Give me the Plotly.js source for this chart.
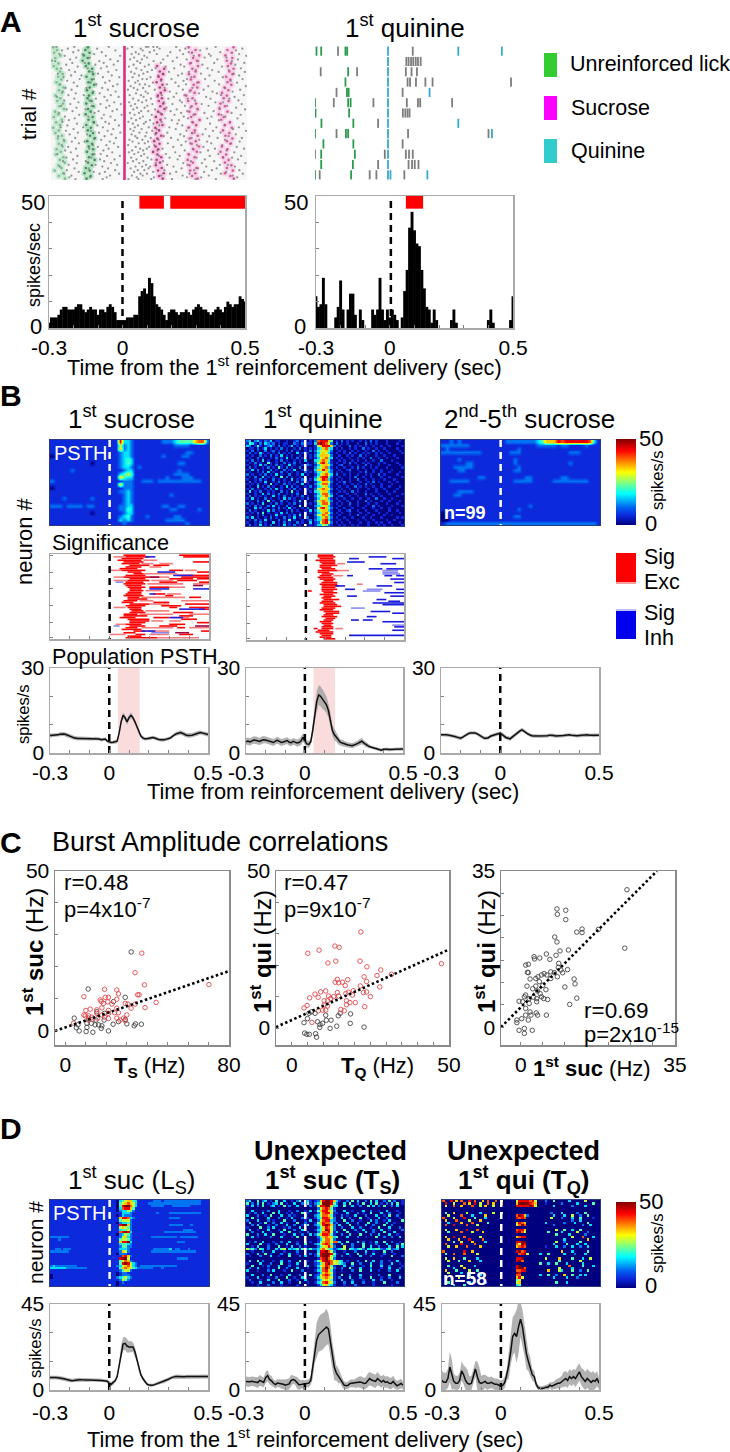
<!DOCTYPE html>
<html><head><meta charset="utf-8">
<script src="https://cdn.plot.ly/plotly-3.0.1.min.js"></script>
<style>html,body{margin:0;padding:0;background:#fff}</style></head>
<body><div id="chart" style="width:730px;height:1452px"></div>
<script>
// ---------- DATA ----------
const timeBins=[-.3,-.29,-.28,-.27,-.26,-.25,-.24,-.23,-.22,-.21,-.2,-.19,-.18,-.17,-.16,-.15,-.14,-.13,-.12,-.11,-.1,-.09,-.08,-.07,-.06,-.05,-.04,-.03,-.02,-.01,0,.01,.02,.03,.04,.05,.06,.07,.08,.09,.1,.11,.12,.13,.14,.15,.16,.17,.18,.19,.2,.21,.22,.23,.24,.25,.26,.27,.28,.29,.3,.31,.32,.33,.34,.35,.36,.37,.38,.39,.4,.41,.42,.43,.44,.45,.46,.47,.48,.49,.5];
const timeTicks=[-.3,-.2,-.1,0,.1,.2,.3,.4,.5];
const timeLabels=['-0.3','','','0','','','','','0.5'];

// A: licks per trial in the first-sucrose raster (seconds)
const lickGreen1=[-.291,-.275,-.287,-.262,-.282,-.296,-.27,-.289,-.276,-.263,-.252,-.271,-.258,-.278,-.266,-.249,-.268,-.255,-.281,-.262,-.274,-.251,-.266,-.247,-.283,-.27,-.288,-.256,-.279,-.263,-.291,-.268,-.282,-.255,-.272,-.246,-.268,-.253,-.277,-.26,-.279,-.249,-.264,-.244,-.27,-.257,-.285,-.25,-.268,-.243];
const lickGreen2=[-.149,-.16,-.143,-.166,-.15,-.171,-.146,-.158,-.132,-.144,-.128,-.155,-.133,-.147,-.124,-.142,-.153,-.13,-.145,-.151,-.135,-.156,-.127,-.149,-.138,-.158,-.13,-.147,-.125,-.156,-.137,-.15,-.128,-.141,-.123,-.152,-.132,-.146,-.128,-.153,-.13,-.145,-.122,-.149,-.133,-.158,-.142,-.163,-.138,-.155];
const lickMag1=[null,null,null,null,null,null,null,.133,.162,.144,.158,.139,.15,.131,.155,.144,.165,.148,.136,.153,.14,.158,.146,.163,.137,.152,.128,.147,.133,.155,.126,.141,.129,.15,.134,.121,.143,.127,.138,.117,.134,.15,.131,.145,.128,.152,.137,.16,.141,.156];
const lickMag2=[.262,.29,.275,.305,.28,.296,.268,.3,.277,.29,.263,.285,.271,.302,.282,.297,.27,.286,.252,.278,.26,.292,.274,.298,.265,.288,.272,.306,.279,.293,.261,.287,.276,.299,.266,.291,.274,.304,.281,.295,.263,.286,.258,.279,.265,.293,.268,.289,.276,.298];
const lickMag3=[.445,.42,.438,.412,.44,.418,.435,.422,.445,.428,.441,.415,.432,.42,.436,.408,.424,.398,.418,.405,.425,.392,.41,.388,.42,.385,.405,.395,.43,.41,.438,.402,.428,.412,.44,.418,.432,.398,.42,.392,.415,.402,.425,.41,.436,.418,.442,.41,.432,.446];
// other spikes, one list per raster line, in milliseconds
const grayMs=[
[-278,-205,-64,31,88,97,211,372,118,133],[-231,-112,12,66,143,248,336,481],[-255,-188,-37,74,121,226,309,455],[-209,-93,46,103,187,262,391],
[-266,-171,-124,29,58,132,239,345,468],[-244,-76,-18,81,176,283,352,497],[-197,-141,39,92,214,327,416],[-222,-58,23,71,158,254,379,463],
[-283,-103,-27,52,119,197,301,438],[-213,-162,-85,64,148,272,366,489],[-238,-119,-44,37,99,229,318,452],[-191,-72,18,83,168,244,398],
[-259,-150,-96,48,127,203,339,475],[-226,-33,69,112,291,358,426],[-202,-131,-66,27,94,181,263,384,491],[-272,-108,41,77,156,235,312,446],
[-218,-176,-52,59,138,219,347,468],[-249,-88,-21,33,106,273,401],[-183,-125,73,91,192,255,329,482],[-234,-61,17,55,149,241,368,433],
[-207,-138,-79,44,116,208,296,459],[-263,-115,-29,62,84,173,251,386],[-193,-47,25,101,221,342,495],[-241,-155,-91,38,76,164,277,411],
[-216,-68,14,53,124,238,323,472],[-252,-128,-36,86,185,266,359,441],[-199,-101,47,95,212,304,377],[-229,-166,-56,21,67,152,245,394,487],
[-276,-82,-24,78,135,201,333,449],[-205,-117,35,108,179,258,351,428],[-246,-143,-71,57,89,226,288,465],[-188,-42,19,72,161,234,371,403],
[-221,-98,-15,43,114,196,315,478],[-258,-134,-62,26,93,247,343,419],[-196,-75,51,82,171,269,388,456],[-236,-159,-31,36,125,213,299,492],
[-212,-106,-49,68,97,188,256,364],[-268,-122,22,59,146,231,326,437],[-185,-84,-12,41,111,204,281,396,474],[-243,-147,-57,75,129,242,355,412],
[-203,-93,28,63,166,259,338,461],[-227,-39,47,104,193,222,307,385],[-254,-127,-78,16,87,151,276,431],[-194,-63,34,79,118,216,349,484],
[-233,-111,-23,55,142,236,292,408],[-261,-169,-88,42,99,183,264,375,467],[-208,-46,24,70,131,209,331,443],[-239,-137,-69,37,113,253,361,496],
[-190,-104,-17,61,90,175,286,392],[-224,-153,-53,29,126,228,319,454],[-271,-81,44,85,160,243,346,425],[-201,-120,-35,52,107,190,274,380,479],
[-248,-95,20,73,139,218,305,410],[-215,-163,-60,33,96,250,337,470],[-186,-43,58,83,177,268,354,435],[-256,-129,-74,15,122,232,295,399],
[-230,-109,-26,46,101,199,322,458],[-198,-144,-65,64,91,155,279,369,488],[-242,-86,31,76,134,246,341,417],[-219,-50,18,56,116,207,310,448],
[-274,-123,-97,40,80,169,261,383],[-192,-71,-19,68,141,225,348,476],[-237,-135,27,94,184,294,402,439],[-210,-100,-41,49,110,217,328,463],
[-251,-158,-83,35,77,157,271,366],[-195,-55,13,60,128,240,316,493],[-228,-118,-30,88,174,257,389,422],[-264,-90,45,72,105,200,334,451],
[-204,-146,-67,25,98,233,300,376],[-235,-38,54,81,163,284,357,469],[-187,-126,-80,39,117,211,325,415],[-247,-102,-22,65,92,186,265,393,483],
[-217,-59,30,74,150,237,344,442],[-225,-140,-73,50,120,255,313,460],[-200,-89,16,57,109,194,290,373]];
const reinforceTime=[0,0];
const reinforceTrials=[.5,50.5];

// A: first-quinine raster, [time, trial]
const qGreenT=[-.294,-.275,-.177,-.17,-.166,-.177,-.171,-.164,-.3,-.166,-.156,-.298,-.162,-.274,-.145,-.3,-.175,-.166,-.266,-.145,-.275,-.139,-.275,-.147,-.3,-.154];
const qGreenTrial=[1,1,1,1,3,4,5,5,6,6,6,7,7,8,8,9,9,9,10,10,11,11,12,12,13,13];
const qCyanT=[-.005,.279,.455,-.005,-.005,-.005,-.005,.163,-.005,-.005,-.005,.279,-.005,.415,-.005,-.005,-.005,-.005,.005,.154];
const qCyanTrial=[1,1,1,2,3,4,5,5,6,7,8,8,9,9,10,11,12,13,13,13];
const qGrayT=[-.207,.095,.069,.078,.088,.097,.107,.116,.127,-.277,-.13,.067,.09,.112,.074,.084,.108,.146,.175,.492,-.213,.054,-.224,-.064,.071,.116,.125,.254,.055,.065,.074,.082,-.045,-.213,.076,.401,.054,-.3,-.018,.067,.08,.095,-.045,.078,.092,.103,.118,-.281,-.079,-.052,.061];
const qGrayTrial=[1,1,2,2,2,2,2,2,2,3,3,3,3,3,4,4,4,4,4,4,5,5,6,6,6,6,6,6,7,7,7,7,8,9,9,9,10,11,11,11,11,11,12,12,12,12,12,13,13,13,13];

// A: PSTHs (spikes/s)
const psthSucrose=[2,4,4,4,5,7,8,8,7,7,7,8,9,9,7,6,7,8,7,7,5,7,7,6,8,9,8,6,3,3,3,3,4,4,4,5,5,12,14,15,13,19,17,12,9,8,7,5,3,6,7,7,6,5,6,6,7,6,5,7,8,9,8,7,7,6,5,6,7,8,7,6,8,10,9,8,9,9,12,11,10];
const psthQuinine=[12,8,9,19,9,0,0,0,4,8,18,7,0,7,13,13,5,0,7,3,0,0,0,7,5,7,19,7,3,7,4,7,5,3,0,4,14,22,38,44,37,32,31,22,15,8,7,2,7,3,0,0,0,0,0,3,7,2,0,0,0,0,0,0,0,0,0,0,0,0,3,7,2,0,0,0,0,0,0,3,12];
const sigStartSucrose=[.069,.195], sigEndSucrose=[.169,.51];
const sigStartQuinine=[.065], sigEndQuinine=[.135];
const sigBase=[45.2,45.2], sigHeight=[4.8,4.8];

// B heatmaps: each digit is a rate step of 50/9 spikes/s, top neuron first
const heatB1=["1111111111111111183321111111222344446772","1111111111111111152321111111111222211111","1111111111111111162321111111111111111111","1111111111111111123321111111111111221111","0111111111111111123321111111211112211111","1111111111111111123431111111111111111111","1111111111011111123431111111111122111111","1111111111111111123321211111111111111111","1111121111111111112331111111111121111111","1111111111111111134541111111111222211111","1111111111111111164331111111121112221111","2111111111111111112221122212222222222211","1111111111111111162221111111111111111111","0111111111111111112221111111111111111111","1111111111111111122321111111111111111111","1111111111111111112321111111112111111111","1112111111211111112321111111111111111111","1111111111111111112321111111111111111111","2221222212211111122331111111221122111111","1111111111111111122431111111112211111211","1111111111011111112331111111111111111111","1111111111111111123421112111111221111111","1111111111111111132321111111122222111111","1111111111111111112111111111111111211111"];
const heatB2=["2302310213011001001201001 027888640 10201010010102010001000010","1431020321201011002102011 038987520 20101000100201010001000100","3201410123102010130101100 015688862 01000201010100100100100001","0110201301010201001020101 013467430 10100101002010010010000100","1020100201201001020100102 024556420 01010010100100201001000010","0201031010102010100301010 013565310 10010201001010010100100001","1010020102010301010010201 024666520 01001010020100010010001000","0100201001020103010201001 013567430 10100100101002001001000100","1020103010010201001010300 034676410 01010010100100100200010000","0102010041010020102010010 025786310 10010201001010001010000100","1001030201020100301001021 013566520 01200100100201001000100010","0201001020104102010020100 024567310 10010010201001010001000001","1030201002010020103001010 036586420 01001200100100100100010000","0100102030100201010100201 024456320 10100100010200100100100010","2010010201030100200103010 013567530 20010100100101002010000100","0102003010100402010010100 024788420 01000102001001000100100001","1001020100201010030102301 035687310 10100100200100100010001000","0201010300102010100201010 013466520 01020100010010201000100100","1010200104010020101003010 024577410 10010010100201000100010000","0100301020100103020100102 013456310 01001002010100100100100010","1020100102030100102010010 025676520 10100100100010010010000100","0301020010100201040100201 034566310 01010020100100010001001000","1001003020102001010200100 013577420 10001001000201001000100001","0201010100301020010102010 024467530 01200100100100100100000100","1030100201001030201001020 013556310 10010010010010020010010000","0100201040100201001030100 025676420 01001000100201000100100010","2010103001020100102010301 014577510 10100200100010010001000100","0102010020301002010040100 023456310 01000100100100201000010001","1003020100102010301001020 015786420 10010010001000100100100000","0201001030201001020100103 024566310 01001200100100010000100100","1010204010010302010010201 013467520 10100100010010001001000010","0100102001030100102030100 025576310 01000100200100100010010000","2030100102010020103010020 013467420 10010010001001000100000101","0102010301002010401001012 023478310 01001000100100100001001000","1001020100301020100201003 012578520 10100100010010010100100010","0201030102001030102010101 013354210 01010010100010001010010001"];
const heatB3=["1121211111111111222222223466687888888731","2222222111111111111111112222212211112111","1211111111111111111211111111111111111111","2222222222111111122211111111111122211111","1111111111111111111111111111111111111111","1111211111111111112111111111111111111111","1111112211111111112111111111111121111111","1112222211111111111211111111111111111111","1111221111111111112211111111111111111111","1111111111111111111111111111111111111111","1111111112211111111112211111112211111111","1122222111111111112222211111222222222111","1111111111111111111111111111111111111111","1111111111111111111111111111111111111111","1111222211111111111111111111111111111111","1112211111111111111111111111111111111111","1111111111111111111111111111111111111111","1111111111111111111111111111111111111111","1111111111111111111111211111111111111111","1111111111111111111211111111111111111111","0111111111111111111111111111111111111111","0111111111111111112211111111111111111111","0011111111111111111111111111111111111111","1222222222222222222222222222222222222221"];
// D heatmaps
const heatD1=["1111111111111111111111111 034566431 11111222122222222222222111","1111111111111111111111111 045676531 11122222222222222222222111","1111111111111111111111111 048997531 11112222211122222221111111","1111111111111111111111111 037886411 11111111111111111111111111","1111111111111111111111111 023354211 11111111111111111111111111","1111111111111111111111111 113332111 11111121111222222222222111","1111111111111111111111111 013222111 11111111111111111111111111","1111111111111111111111111 168873211 11111111111222211111111111","1111111111111111111111111 145552111 11111111111111111111111111","1111111111111111111111111 023342111 11111111111111111111111111","1111111111111111111111111 189962111 11111111111222221112111111","1111111111111111111111111 156542111 11111111111111111111111111","1111111111111111111111111 134452111 11111111111111112222111111","1111111111111111111111111 178983111 11111111122222222222211111","1111111111111111111111111 023542111 11111111111111111111111111","2222222111111111111111111 125632111 11112222222222122222221111","1112111111111111111111111 145542111 11111111111111111111111111","1111111111111111111111111 168893111 11111111111111222111111111","1111111111111111111111111 134432111 11111111111111111111111111","1111111111111111111111111 124422111 11111111111111111111111111","1122122211111111111111111 133321111 11111222222312211121111111","2222222111111111111111111 126521111 11112222222222222222211111","1111111111111111111111111 022211111 11111111111111111111111111","1111111111111111111111111 117862111 11111111111111111111111111","1111111111111111111111111 189951111 11111111111111222211111111","1111111111111111111111111 145762111 11111111111111111111111111","1111111111111111111111111 148985321 11111111111111111111111111","2322222222111111111111111 235675321 22222222222222111111111111","3333332222222211111111111 146765432 22222111211111111111111111","1111111111111111111111111 124552111 11111111111111111111111111","1111111111111111111111111 012211111 11111111111111111111111111","0111111111111111111111111 012221111 11111111111111111111111111","0111111111111111111111111 234532111 11111111111111111111111111","1111111111111111111111111 125421111 11111111111111111111111111","1111111111111111111111111 012111111 11111111111111111111111111","1111111111111111111111111 011111111 11111111111111111111111111"];
const heatD2=["2300402301040030010240031 012689986 31002040300204030020402001","4020304010230401003002041 023599984 20030400204003040102030401","1030204002301040200300102 015889963 30040030020040302040020300","0000000000000000000000000 002578741 00000000000000000000000000","0030001020003000100200103 014688652 00030010003002001003000100","0102003000403001020004010 002578851 10003000201004000300200010","3000200104000300201000300 023577641 00201003000200030010400200","0040100030002001030002010 013488752 00300200040010003002000010","2000300020100040002000103 002578832 00040020010003020010300004","0300010400200301000400200 014687741 20003000200040020003001000","0020300010020003002001040 023589862 03000400100300200040020000","1000040020300010200030100 002468752 00200030020001004000300020","0300100030001040002003000 013469852 00040002003000200300100002","0020003001000300400010020 002477851 30004000100300200040003000","4000200300400010003002003 024688741 00200300040002003000300100","0030100002000300010400100 002467663 40003000200100040020020030","0000000000000000000000000 001357752 00000000000000000000000000","0102003000100200300100201 001467757 73004000302001030040020010","3000040010020003000200400 023578741 00300020004001020003000204","0010300020004001030020100 002456862 00050020004003002000300403","5342043020031450323414324 223675431 23450432342034344213412300","0010002000300010000200100 003889752 00010002000300100040020000","2000300401000200300100002 014899984 10003000400200300020001000","0100020003001000400020300 013899853 00200100030002000100040002","0000000000000000000000000 001789752 00000000000000000000000000","0300402000100300200040010 024689875 64301000200400300200100300","1000030002000400100300200 012468975 54320040020003000200030010","0040001020003000200100030 013568741 00030020001004000300200001","0200300010004002000300010 002479752 00200400030002000100300020","3000100020300010040002000 013478641 00100020040003001000200300","0000000000000000000000000 001367651 00000000000000000000000000","0030002004000100300020004 012578741 00400200030001002000400010","1000300010020004001003000 013567651 02000300020004000100200030","0200010030004000200100300 002356541 00300020001000300200010000","0010030000200300100040010 013478652 00020030002000100040000200","0000100020000100000100000 001356431 00010002000000100000010000"];
const heatD3=["7008060700807006070070500 000588887 85000200400000300000500000","0800500070608050070600700 000699998 76000100000200000300000400","0500700600070050600500000 000888889 85000000300000020000300000","0000000000000000000000000 000000000 00000000000000000000000000","0000000000000000000000000 000000000 00000000000000000000000000","0400600005000030000500400 000000000 00000002000300000200400000","0050000700030000600000000 000798620 00000000300030050020040000","7000500080004000300000000 000878700 00000005000200030040000100","0600070000500060000000000 000000000 00000000000000020030000000","0030000600070000040000000 000687600 00000300000020003000040000","0700800007000500000000000 000579700 00000000200000000002003000","0000000000000000000000000 000000000 00000000000000000000000000","0500060008000700000000000 000788600 00000000050040030040000000","0040000700050006000000000 000897500 00000040000300000500020000","0000000000000000000000000 000000000 00000000040000300000200000","0600800070000050000000000 000678800 00000000000000050007000300","0060006000800007000000000 000000000 00000000000030000000060000","0000400500060000300000000 000889900 00000000050020000040000000","0700000800007000000000000 000759800 00000000300004000300300000","0050060007000060000000000 000678700 00000100030020030020030000","0000000000000000000000000 000000000 00000000000000000000000000","7000000080060000000000000 000897800 00000000000600030000040000","0400700070000500000000000 000078950 00030040000030002000300000","0000000000000000000000000 000000000 00000000000000000000000000","0500600040000300000000000 000889000 00000500006000040003005000","0050004000600030000000000 000897000 00000000004000000050000000","0000000000000000000000000 000000000 00040030040003000003000000","0040000500003000000000000 000890000 00000000000000700004000300","0000300060000000000000000 000899700 00000000005000030000000000","0600040000500400000000000 000778800 00000060005300040020040000","0050000300000000000000000 000980000 00000000000000000000000000","0000000000400030000000000 000770000 00030040020060040030300000","0400005000040000000000000 000685000 00000000300003000200000000","0000000000000000000000000 000450000 00000000000000000000000000","0040000000300000200000000 000560000 00000000040003000000000000","0000300040000000000000000 000340000 00000000000000000000000000"];

// B significance: flat [row, start, end] triples
const sigSucRed=[0,.07,.18,0,.35,.5,1,.08,.2,1,.37,.5,2,.06,.17,3,.04,.16,4,.07,.17,4,.42,.5,5,.06,.15,6,.1,.2,6,.22,.3,7,.08,.16,8,.05,.14,9,.06,.18,9,.3,.37,10,.09,.16,10,.44,.5,11,.12,.17,12,.08,.18,12,.34,.5,13,.07,.2,13,.36,.5,14,.1,.18,14,.3,.42,14,.44,.5,15,.09,.2,15,.34,.44,16,.08,.17,16,.25,.34,16,.45,.5,17,.07,.18,18,.08,.16,19,.09,.18,19,.2,.3,20,.1,.16,21,.1,.17,22,.09,.16,23,.08,.16,23,.22,.28,24,.07,.17,24,.28,.32,25,.09,.15,25,.4,.46,26,.09,.19,27,.07,.14,28,.06,.12,28,.22,.3,29,.1,.2,29,.38,.5,30,.08,.18,30,.26,.36,31,.09,.16,31,.3,.34,31,.4,.5,32,.1,.16,32,.45,.5,33,.11,.17,34,.1,.18,34,.32,.42,35,.07,.14,36,.07,.19,36,.35,.42,37,.05,.13,37,.22,.3,38,.09,.2,38,.36,.44,39,.1,.2,40,.1,.18,40,.44,.5,41,.08,.16,41,.3,.38,42,.1,.18,42,.25,.34,43,.08,.14,43,.34,.38,44,.06,.16,45,.12,.18,45,.46,.5,46,.07,.13,47,.13,.18,47,.35,.42,48,.09,.16,49,.08,.24];
const sigSucPale=[1,.02,.08,3,.17,.24,5,.16,.22,5,.25,.32,7,.2,.26,9,0,.06,9,.38,.44,11,.17,.34,13,.02,.07,13,.2,.3,15,.02,.09,15,.21,.32,17,.19,.37,17,.42,.5,19,.3,.38,21,.18,.26,23,.29,.36,25,.16,.38,27,.15,.22,27,.36,.5,29,.2,.3,31,.02,.08,33,.18,.3,35,.15,.32,35,.4,.5,37,.31,.4,39,.21,.27,39,.3,.36,41,.03,.08,43,.16,.32,43,.4,.5,45,.19,.3,47,0,.08,47,.2,.3,49,.24,.45];
const sigSucBlue=[1,.18,.23,10,.24,.33,12,.32,.42,20,.2,.3,20,.42,.5,23,.2,.23,32,.35,.48,37,.3,.37,45,.16,.23];
const sigSucPaleBlue=[16,.03,.07,42,.02,.05,46,.21,.3];
const sigSucMaroon=[13,.2,.25,18,.42,.47,42,.43,.5,46,.33,.4];
const sigQuiRed=[0,.06,.14,1,.06,.15,2,.07,.14,3,.05,.15,4,.07,.15,5,.08,.15,6,.07,.16,7,.07,.13,8,.08,.15,9,.06,.16,10,.06,.12,11,.08,.14,12,.07,.13,13,.06,.14,14,.07,.15,15,.09,.14,16,.08,.16,17,.07,.16,18,.08,.17,19,.08,.15,20,.08,.16,21,.08,.14,21,.01,.03,22,.09,.16,23,.07,.14,24,.09,.15,25,.08,.13,26,.09,.17,27,.08,.14,28,.07,.15,29,.09,.16,30,.09,.18,31,.08,.15,32,.07,.14,33,.09,.17,34,.1,.17,35,.09,.14,36,.08,.16,37,.1,.15,38,.09,.14,39,.07,.13,40,.08,.14,41,.09,.13,42,.08,.14,43,.08,.14,43,.04,.06,44,.06,.12,45,.05,.14,46,.07,.14,47,.08,.13,48,.07,.13,49,.09,.15];
const sigQuiPale=[5,.16,.2,9,.16,.22,12,.14,.19,17,.26,.29,43,.15,.19];
const sigQuiBlue=[1,.32,.41,2,.22,.27,2,.44,.5,4,.21,.3,5,.38,.46,8,.32,.39,8,.41,.5,12,.21,.24,12,.4,.44,12,.46,.5,14,.43,.5,16,.45,.5,18,.36,.44,18,.15,.2,20,.2,.25,20,.46,.5,22,.4,.5,24,.21,.26,24,.43,.5,26,.36,.41,27,.42,.48,28,.34,.43,28,.43,.5,29,.39,.5,33,.33,.43,34,.44,.5,36,.31,.36,38,.23,.27,38,.29,.34,39,.39,.5,42,.45,.5,44,.44,.5,47,.22,.5];
const sigQuiPaleBlue=[9,.39,.47,10,.39,.47,11,.39,.48,20,.31,.39,21,.29,.38,31,.23,.3,41,.44,.5];

// B population PSTH
const popSuc=[6.2,6.2,6.2,6.3,6.4,6.6,6.7,6.7,6.5,6.3,6,5.7,5.4,5.2,5.1,5.1,5.1,5.1,5.1,5.1,5,5,5,5.1,5.1,4.9,4.7,4.8,4.9,4.2,3.8,3.7,3.8,3.9,4.2,7,11,13.3,12.5,11,12.5,13.3,12.5,11,9.5,7.5,6,5.3,5,5,5.1,5.2,5.5,5.3,5,4.8,4.7,4.6,4.7,4.9,5,5.3,5.9,6.5,6.8,7,7.2,7,6.6,6.3,6.2,6.2,6.3,6.5,6.8,7,7.2,7.1,6.9,6.7,6.5];
const popQui=[4,4.2,3.9,4.4,4.6,4.5,4.3,4.1,4.5,4.7,4.6,4.4,4.2,3.9,3.7,4.2,4.5,4.1,3.7,3.9,4.2,4.4,3.8,3.6,4.1,3.9,3.5,3.7,4.2,5.5,4.4,3.2,3,4,8,13,18,20.5,20,19,18,17,15,12,8,6.5,5.5,4.5,3.8,3.5,3.2,3,2.8,2.7,2.6,2.8,3,3.4,3.8,4.2,3.6,3,2.6,2.2,2,1.8,1.5,1.3,1.2,1,1.3,1.4,1.3,1.2,1.2,1.3,1.4,1.4,1.3,1.3,1.4];
const popLater=[6.4,6.5,6.4,6.4,6.3,6.2,6,5.8,5.6,5.3,5.2,5.6,6.1,6.6,6.9,7.1,7.2,7.1,6.9,6.5,6,5.5,5.2,5.2,5.4,5.9,6.2,6.4,6.6,6.8,7,6.5,5.8,5.4,5.2,5,5.6,6.2,6.6,7.2,7.8,8.2,7.8,7.2,6.7,6.3,6.1,6,6,6,5.9,5.9,6,6,6.1,6.3,6.3,6.2,6,6,6,6.1,6.2,6.3,6.4,6.4,6.3,6.2,6.1,6.1,6.2,6.3,6.3,6.3,6.4,6.3,6.3,6.2,6.2,6.2,6.3];
// error half-widths, one for each 0.02 s
const semSuc=[.7,.7,.7,.7,.7,.7,.7,.7,.6,.6,.6,.6,.6,.6,.6,.5,.6,.8,1,1,1,.9,.7,.7,.6,.6,.6,.6,.6,.6,.6,.6,.7,.8,.8,.8,.8,.8,.7,.7,.7];
const semQui=[1.3,1.3,1.3,1.3,1.3,1.2,1.2,1.2,1.2,1.2,1.2,1.2,1.2,1.3,1.5,1.3,1.2,2.2,3.5,3.5,3,2.5,2,1.5,1.1,.9,.9,.9,1,1.1,.9,.7,.6,.6,.6,.5,.6,.5,.5,.5,.5];
const semLater=[.6,.6,.6,.6,.6,.6,.6,.6,.6,.6,.6,.6,.6,.6,.6,.7,.7,.7,.7,.7,.7,.6,.6,.6,.6,.6,.6,.6,.6,.6,.6,.6,.6,.6,.6,.6,.6,.6,.6,.6,.6];
const shadeSpan=[.044,.154];

// C scatter data
const tsSucRedX=[37.4,34.1,38.7,19.2,25.2,26,19.5,9.1,21.1,25.2,17.1,17.6,18.7,20.8,22.8,35.4,36.1,29.3,30.6,32.2,34.1,39,44.4,70.2,17.9,10.1,12.2,15.4,21.1,25.2,26,30.1,9.1,11.4,13,15.4,17.9,21.1,24.1,25.2,26.8,28.5,29.3,11.4,13.3,15.9,19.2,21.1,4.1,9.8];
const tsSucRedY=[24.3,18.2,14.4,13,12.8,11.6,10.5,10.7,10.5,9.9,9.7,9.2,8.6,9.1,8.4,11.3,11.3,8.6,8.4,7.1,8.4,7.3,8.9,14.5,7.2,6.4,6.8,6.6,6.4,7.1,5.7,5,5,4.7,4.3,5.5,5,5.5,5.7,4,3.4,4,3.2,3.4,3.6,4,4.3,3.9,2.4,4.7];
const tsSucGrayX=[32.2,11.2,29.3,23.6,15.4,19.2,4.4,6.2,5.4,6.8,10.6,10.6,10.2,13.5,21.1,17.6,17.9,14.6,12.7,16.3,23.4,30.1,33.7,34.3,37.2,19,26,15,11.4,29.3];
const tsSucGrayY=[24.7,13.1,10.5,9.2,6,5.5,4,1.9,1,0,2.4,1.1,-.2,-.4,0,.8,1.6,1.9,2.4,1.9,2.1,2.2,1.6,2.2,2.1,3.4,2.9,3.4,4,3.6];
const tqQuiRedX=[22,13.7,15.1,5.1,8.7,11.5,14,21.7,23.9,28.3,27.1,23,31.7,47.6,28,23.8,21.8,17.8,16.1,14.5,13.8,14.9,17,19.6,18,17.2,19.3,14.5,14.9,13.3,11.7,10.8,9.2,7.4,8.4,5.7,4.9,3.9,10.3,11.4,12.4,17.4,18.5,17.4,20.2,22.8,23.8,25,23.2,15.6,16.7,8.5,9.8,10.8,10.3,11.4,6.4];
const tqQuiRedY=[30.6,26.1,25.7,23.8,24.8,20.7,21.3,21.3,19.5,18.5,16.7,16.3,17.1,20.5,13.1,14.8,13.4,15.4,14.6,15.5,14.6,14.4,13.5,11.9,11.4,11,10.5,11.3,10.2,10,10.2,11.8,11.5,10.8,9.8,9.6,7.2,6.4,8.7,8.7,9.4,8.7,8.1,7.4,8.1,11.3,11.5,10,6.8,5.9,5.5,5.5,5.7,5.7,7.3,7,1.8];
const tqQuiGrayX=[3.9,5,5.5,6.3,7.4,8.2,9.8,8.9,9,11,12.5,12.2,14.3,14.8,15.4,18.7,18.6,23,4.1,4.8,5.6,7.6,7.9,10.8];
const tqQuiGrayY=[1.7,3,4.7,5.2,4.7,2,1.5,.2,1.1,2.5,2.5,-.1,.6,3.9,4.7,4.5,1.5,.3,-1.6,-2,-2,-1.8,-2.9,4.1];
const sucQuiX=[24.1,8.2,10.2,8.3,10.2,12.7,13.9,13.9,17.6,7.7,8.2,23.6,8.9,10.8,8,5.8,6.6,3,3.1,4.3,1.1,1.7,8.6,1.5,1.7,10.6,8.5,9.1,6.8,7.6,5.3,4.7,3.9,3.4,2.1,5.9,6.8,8.3,9.5,12.1,12.3,10,1.4,2.7,3.4,4.2,5,5.7,3.8,4.4,4.7,5.2,6.1,3.6,2.9,1.9,1.1,.8,-.4,.4,1.9,3.6,1.1,2.1,2.3,1.1,.2,-.9,-.9,1.7,3.5,3.8,5.8,11.1,12.7,-.4,.8,.8,2.6];
const sucQuiY=[30.8,26.5,26.2,25.3,24.1,21.3,22,21.2,21.9,20.2,19.1,17.7,17.1,17.3,16.1,16.4,15.2,15.8,15.3,15.5,13.9,14.1,14.3,12.3,12.2,12.9,13.4,12.8,12.4,12.2,12,11.7,11.3,10.9,10.8,11.7,10.9,11.3,12.2,10.8,9.7,9,9.2,8.6,9.2,10.2,9.4,8.4,8.1,7.5,6.8,6.4,6.2,6.4,6.7,6.4,7.2,6.8,5.8,5.7,5.3,5.7,4.2,3.4,2.7,2.7,1.9,1.6,1,1.6,3.2,2.7,2.7,5.1,6.5,-.7,-.3,-1.4,-.7];
const fitX1=[-5,80], fitY1=[0,18.7];
const fitX2=[-5,50], fitY2=[.3,25];
const fitX3=[-4.5,30.9], fitY3=[0,35];

// D PSTH
const learnedSuc=[6.5,6.6,6.6,6.5,6.4,6.3,6.1,5.9,5.6,5.3,5,4.9,5,5.2,5.3,5.4,5.3,5.3,5.2,5.1,5.1,5.2,5.3,5.2,5.1,5.1,5,4.9,4.9,4.6,3.5,3,4,4.8,7,13,20,24,24.4,23,22.5,22.7,22.5,20,16,11,8,6,4.5,3.2,2.6,2.4,2.5,2.8,3.2,3.6,3.9,4.2,4.5,5,5.6,6.2,6.7,7,7.1,7,7,6.9,6.9,7,7.1,7.1,7,7,6.9,6.9,7,7.1,7.1,7,7];
const unexpSuc=[4.5,4.2,4.3,4.6,4.4,4.2,3.9,5,4.5,4,6.5,7.5,5.5,4.8,3.5,2.8,3.6,3.5,3.2,3,2.5,2.8,3.2,5,5.5,5,3.8,2.8,2.9,3.1,3,3.4,3.6,5,12,20,26,29,30,30.5,31.5,33,32,26,18,12,9,7.5,6,4,2.5,2.2,2.5,3.4,3.6,3.4,3.6,4,4.2,4,3.4,3.5,5,6,5.2,5,4.5,6,5,4.2,5,4,4.3,3.5,3.4,4.5,3.2,2.2,2.8,3.4,2.5];
const unexpQui=[5,4,4,6,12,8,4.5,3.5,3.5,5,10,8,5,3.5,3,3.5,7,11,7,4,3.5,4,4.5,3.5,3.5,4,3.5,3,3,2.5,2,2.5,4,8,13,20,28,29.6,28,33,37,33,26,19,15,12,8,7,3,1.2,.8,.8,1,1.5,1.5,2.5,2,2.5,3,3.5,3.5,4.5,5.5,6,5,7,6,7,6,8,9.5,7,6,4.5,6,5,4,5,4.5,6,3.5];
const semLearned=[1,1,1,1,1,1,1,1,1,1,.9,.9,.9,.9,.9,1.2,1,1.2,3.5,3.5,3,2.5,1.5,1,.8,.8,.8,.8,.8,.8,.9,.9,1,1,1,1,1,1,1,1,1];
const semUnexpSuc=[2.6,2.5,2.5,2.8,2.6,3,2.5,2,2,2.5,3,3,2.2,3,2.2,2,2.2,6,9,9.5,9.5,8,7,4,2.5,2,2,2,2.5,3,3,3.5,3.5,3.5,3,3,3,3,2.5,2.5,2];
const semUnexpQui=[5,5,8,4,4,5,7,4,4,8,4,3.5,3,3,3,3,3,7,10,14,9,8,5,3,1.5,1.2,1.2,1.5,2,2.5,3,4,4,4,4.5,4.5,5,5,5,4,3];

const rateSteps=50/9;
const jet=[[0,'#00007e'],[.11,'#0c28dc'],[.2,'#0060f0'],[.365,'#00ffff'],[.615,'#ffff00'],[.865,'#ff0000'],[1,'#800000']];

// ---------- HELPERS ----------
const W=730,H=1452;
const FONT='"Liberation Sans", Arial, sans-serif';
const layout={width:W,height:H,autosize:false,showlegend:false,margin:{l:0,r:0,t:0,b:0,pad:0},paper_bgcolor:'#fff',plot_bgcolor:'rgba(0,0,0,0)',
  barmode:'overlay',font:{family:FONT,color:'#000',size:20},annotations:[],shapes:[],hovermode:false};
const traces=[];
const ax=n=>n===1?'':String(n);
const xr=n=>'x'+ax(n), yr=n=>'y'+ax(n);

// labelled ticks become major ticks, the others minor ticks, so no empty label is drawn
function tickSet(vals,labels){
  vals=vals||[];labels=labels||[];
  const major=[],text=[],minor=[];
  vals.forEach((v,i)=>{if(labels[i]){major.push(v);text.push(labels[i]);}else minor.push(v);});
  return {tickmode:'array',tickvals:major,ticktext:text,showticklabels:major.length>0,
    minor:{tickmode:'array',tickvals:minor,ticks:'inside',ticklen:3,tickwidth:1,tickcolor:'#808080',showgrid:false}};
}
function panel(n,x0,x1,y0,y1,xrange,yrange,o){
  o=o||{};
  const visible=!o.hidden;
  const frame={showgrid:false,zeroline:false,showline:!!o.frame,mirror:true,linecolor:o.frameColor||'#a9a9a9',linewidth:o.frameWidth||1.5,
    ticks:o.ticks?'inside':'',ticklen:3,tickwidth:1,tickcolor:'#808080',tickfont:{family:FONT,size:o.tickSize||21,color:'#000'},fixedrange:true};
  layout['xaxis'+ax(n)]=Object.assign({},frame,{visible,domain:[x0/W,x1/W],range:xrange,anchor:yr(n),ticklabelstandoff:o.xStandoff||0,tickangle:0},tickSet(o.xticks,o.xlabels));
  layout['yaxis'+ax(n)]=Object.assign({},frame,{visible,domain:[1-y1/H,1-y0/H],range:yrange,anchor:xr(n)},tickSet(o.yticks,o.ylabels));
}
function lab(text,x,y,size,o){
  o=o||{};
  layout.annotations.push({text,xref:'paper',yref:'paper',x:x/W,y:1-y/H,xanchor:o.anchor||'center',yanchor:'middle',showarrow:false,
    textangle:o.rot||0,borderpad:0,font:{family:FONT,size,color:o.color||'#000'}});
}
function on(n,t){t.xaxis=xr(n);t.yaxis=yr(n);t.hoverinfo='skip';traces.push(t);}
function zeroLine(n,yRange,color,t0){
  on(n,{type:'scatter',mode:'lines',x:[t0||0,t0||0],y:yRange,line:{color:color||'#000',width:2.5,dash:'7px,5px'}});
}
function heat(n,rows,smooth,bar){
  const clean=rows.map(r=>r.replace(/ /g,''));
  const cols=clean[0].length;
  const t={type:'heatmap',z:clean.map(r=>r.padEnd(cols,'0').slice(0,cols).split('').map(d=>+d*rateSteps)),
    x:Array.from({length:cols},(_,i)=>-.3+(i+.5)*.8/cols),y:clean.map((_,i)=>i),
    zmin:0,zmax:50,colorscale:jet,zsmooth:smooth,showscale:!!bar};
  if(bar)t.colorbar={x:616/W,xanchor:'left',xpad:0,y:1-bar[0]/H,yanchor:'top',ypad:0,len:(bar[1]-bar[0])/H,thickness:20,thicknessmode:'pixels',outlinewidth:0,borderwidth:0,showticklabels:false,ticks:''};
  on(n,t);
}
function segs(n,flat,color,w){
  const x=[],y=[];
  for(let i=0;i+2<flat.length;i+=3){x.push(flat[i+1],flat[i+2],null);y.push(flat[i],flat[i],null);}
  on(n,{type:'scatter',mode:'lines',x,y,line:{color,width:w||1.6},connectgaps:false});
}
function psthLine(n,mean,sem,color){
  const m=mean.slice(0,timeBins.length);
  const up=m.map((v,i)=>v+sem[Math.floor(i/2)]);
  const lo=m.map((v,i)=>Math.max(0,v-sem[Math.floor(i/2)]));
  const xs=timeBins.slice(0,m.length);
  on(n,{type:'scatter',mode:'lines',x:xs.concat(xs.slice().reverse()),y:up.concat(lo.slice().reverse()),fill:'toself',fillcolor:color||'rgba(165,165,165,.85)',line:{width:0},cliponaxis:false});
  on(n,{type:'scatter',mode:'lines',x:xs,y:m,line:{color:'#111',width:1.5}});
}
function shadeRect(n,x0,x1,color){
  layout.shapes.push({type:'rect',xref:xr(n),yref:yr(n)+' domain',x0,x1,y0:0,y1:1,fillcolor:color,line:{width:0},layer:'below'});
}
function pageRect(x0,y0,x1,y1,color){
  layout.shapes.push({type:'rect',xref:'paper',yref:'paper',x0:x0/W,x1:x1/W,y0:1-y1/H,y1:1-y0/H,fillcolor:color,line:{width:0}});
}
const RANGE_T=[-.3,.5];
const sup=s=>'<sup>'+s+'</sup>';

// ---------- PANEL A ----------
panel(1,51,247,46,180,RANGE_T,[50.5,.5],{hidden:true});
panel(2,315,513,46,180,RANGE_T,[13.5,.5],{hidden:true});
layout.shapes.push({type:'rect',xref:'x',yref:'y domain',x0:-.3,x1:.5,y0:0,y1:1,fillcolor:'#f6f6f6',line:{width:0},layer:'below'});
const trials=lickGreen1.map((_,i)=>i+1);
const bandPale=(xs,c)=>on(1,{type:'scatter',mode:'markers',x:xs,y:trials,marker:{symbol:'circle',size:6.5,color:c,opacity:.6,line:{width:0}}});
const bandCore=(xs,c)=>on(1,{type:'scatter',mode:'markers',x:xs,y:trials,marker:{symbol:'circle',size:2.6,color:c,opacity:.85,line:{width:0}}});
bandPale(lickGreen1,'#b6e3c3');bandPale(lickGreen2,'#9ed9ae');bandPale(lickMag1,'#f6b6dc');bandPale(lickMag2,'#f6c2e0');bandPale(lickMag3,'#f8c6e4');
const gx=[],gy=[];grayMs.forEach((r,i)=>r.forEach(v=>{gx.push(v/1000);gy.push(.5+(i+.5)*50/grayMs.length);}));
on(1,{type:'scatter',mode:'markers',x:gx,y:gy,marker:{symbol:'circle',size:2.3,color:'#808080',opacity:.8,line:{width:0}}});
bandCore(lickGreen1,'#6fb586');bandCore(lickGreen2,'#2f7f4d');bandCore(lickMag1,'#a62a72');bandCore(lickMag2,'#c44a90');bandCore(lickMag3,'#c44a90');
on(1,{type:'scatter',mode:'lines',x:reinforceTime,y:reinforceTrials,line:{color:'#d92f7d',width:2.6}});
const tick=(xs,ys,c)=>on(2,{type:'scatter',mode:'markers',x:xs,y:ys,marker:{symbol:'line-ns',size:6.5,line:{color:c,width:1.8}}});
tick(qGrayT,qGrayTrial,'#7d7d7d');tick(qGreenT,qGreenTrial,'#2c9a4c');tick(qCyanT,qCyanTrial,'#36a9cd');

const y50=[0,10,20,30,40,50];
panel(3,49,245,196,328,RANGE_T,[0,50],{frame:true,ticks:true,xticks:timeTicks,xlabels:timeLabels,yticks:y50});
panel(4,316,513,196,328,RANGE_T,[0,50],{frame:true,ticks:true,xticks:timeTicks,xlabels:timeLabels,yticks:y50});
on(3,{type:'bar',x:timeBins,y:psthSucrose,width:.0118,marker:{color:'#000',line:{width:0}}});
on(4,{type:'bar',x:timeBins,y:psthQuinine,width:.0118,marker:{color:'#000',line:{width:0}}});
const sigBars=(n,s,e)=>on(n,{type:'bar',x:s.map((v,i)=>(v+e[i])/2),width:s.map((v,i)=>e[i]-v),y:s.map((_,i)=>sigHeight[i]),base:s.map((_,i)=>sigBase[i]),marker:{color:'#fe0000',line:{width:0}},cliponaxis:false});
sigBars(3,sigStartSucrose,sigEndSucrose);sigBars(4,sigStartQuinine,sigEndQuinine);
zeroLine(3,[0,50]);zeroLine(4,[0,50],'#000',.004);

lab('<b>A</b>',11,21,30);
lab('1'+sup('st')+' sucrose',136,26,26);
lab('1'+sup('st')+' quinine',405,26,26);
lab('trial #',29,114,21,{rot:-90});
pageRect(544,53,557,77,'#33cc33');pageRect(544,96,557,120,'#ff00ff');pageRect(544,139,557,163,'#33cccc');
lab('Unreinforced lick',569,64,21.5,{anchor:'left'});
lab('Sucrose',570,108,21.5,{anchor:'left'});
lab('Quinine',570,151,21.5,{anchor:'left'});
lab('spikes/sec',34,265,18,{rot:-90});
lab('50',33,202,22);lab('0',36,327,22);lab('50',296,202,22);lab('0',300,327,22);
lab('Time from the 1'+sup('st')+' reinforcement delivery (sec)',284,366,21.6);

// ---------- PANEL B ----------
const HR=[23.5,-.5], HR36=[35.5,-.5];
const hmOpt={frame:true,frameColor:'#2a3a80',frameWidth:1};
panel(5,50,209,440,525,RANGE_T,HR,hmOpt);
panel(6,246,404,440,526,RANGE_T,HR36,hmOpt);
panel(7,441,600,440,525,RANGE_T,HR,hmOpt);
heat(5,heatB1,'best',[439,525]);heat(6,heatB2,false);heat(7,heatB3,'best');
zeroLine(5,[-.5,23.5],'#fff');zeroLine(6,[-.5,35.5],'#fff');zeroLine(7,[-.5,23.5],'#fff');
lab('<b>B</b>',11,395,30);
lab('1'+sup('st')+' sucrose',131,418,26);
lab('1'+sup('st')+' quinine',323,418,26);
lab('2'+sup('nd')+'-5'+sup('th')+' sucrose',529,418,26);
lab('PSTH',80,453,20,{color:'#fff'});
lab('<b>n=99</b>',465,513,18,{color:'#fff'});
lab('50',651,439,22);lab('0',651,523,22);lab('spikes/s',657,480,16.5,{rot:-90});
lab('neuron #',24,541,22,{rot:-90});
lab('Significance',51,542,21.7,{anchor:'left'});

const SR=[49.7,-.7];
const sigTicksY=[0,10,20,30,40,49];
panel(8,50,209,554,639,RANGE_T,SR,{frame:true,ticks:true,xticks:timeTicks,yticks:sigTicksY});
panel(9,247,404,554,640,RANGE_T,SR,{frame:true,ticks:true,xticks:timeTicks,yticks:sigTicksY});
segs(8,sigSucPale,'#f47c7c');segs(8,sigSucRed,'#fe0000');segs(8,sigSucPaleBlue,'#8a8aee');segs(8,sigSucBlue,'#2222dd');segs(8,sigSucMaroon,'#a00040');
segs(9,sigQuiPale,'#f47c7c');segs(9,sigQuiRed,'#fe0000');segs(9,sigQuiPaleBlue,'#8a8aee');segs(9,sigQuiBlue,'#1a1add');
zeroLine(8,[-.7,49.7]);zeroLine(9,[-.7,49.7]);
pageRect(616,553,636,582,'#fe0000');pageRect(616,582,636,584,'#f8a0a0');pageRect(616,609,636,611,'#c0c0ff');pageRect(616,611,636,639,'#0000ee');
lab('Sig',643,557,21.5,{anchor:'left'});lab('Exc',643,582,21.5,{anchor:'left'});
lab('Sig',643,613,21.5,{anchor:'left'});lab('Inh',643,638,21.5,{anchor:'left'});

lab('Population PSTH',51,656,21.6,{anchor:'left'});
const y30=[0,10,20,30];
const popOpt={frame:true,ticks:true,xticks:timeTicks,xlabels:timeLabels,yticks:y30,ylabels:['0','','','30']};
panel(10,50,208,668,753,RANGE_T,[0,30],popOpt);
panel(11,246,403,668,753,RANGE_T,[0,30],popOpt);
panel(12,441,599,668,753,RANGE_T,[0,30],popOpt);
shadeRect(10,shadeSpan[0],shadeSpan[1],'#fbdcdc');shadeRect(11,shadeSpan[0],shadeSpan[1],'#fbdcdc');
psthLine(10,popSuc,semSuc);psthLine(11,popQui,semQui);psthLine(12,popLater,semLater);
zeroLine(10,[0,30]);zeroLine(11,[0,30]);zeroLine(12,[0,30]);
lab('spikes/s',23,714,16.5,{rot:-90});
lab('Time from reinforcement delivery (sec)',333,792,21.8);

// ---------- PANEL C ----------
lab('<b>C</b>',11,842,30);
lab('Burst Amplitude correlations',51,842,27,{anchor:'left'});
const sc={frame:true,ticks:true,frameColor:'#8a8a8a'};
panel(13,55,229,871,1045,[-5,80],[-4.4,50],Object.assign({},sc,{xticks:[0,10,20,30,40,50,60,70,80],xlabels:['0','','','','','','','','80'],yticks:[0,10,20,30,40,50],ylabels:['0','','','','','50']}));
panel(14,276,449,871,1045,[-5,50],[-5.4,50],Object.assign({},sc,{xticks:[0,5,10,15,20,25,30,35,40,45,50],xlabels:['0','','','','','','','','','','50'],yticks:[0,10,20,30,40,50],ylabels:['0','','','','','50']}));
panel(15,501,675,871,1045,[-4.5,35],[-4,35],Object.assign({},sc,{xticks:[0,5,10,15,20,25,30,35],xlabels:['0','','','','','','','35'],yticks:[0,5,10,15,20,25,30,35],ylabels:['0','','','','','','','35']}));
const openDots=(n,xs,ys,c)=>on(n,{type:'scatter',mode:'markers',x:xs,y:ys,marker:{symbol:'circle-open',size:4.5,color:c,line:{color:c,width:.9}}});
openDots(13,tsSucGrayX,tsSucGrayY,'#444');openDots(13,tsSucRedX,tsSucRedY,'#e2474c');
openDots(14,tqQuiGrayX,tqQuiGrayY,'#444');openDots(14,tqQuiRedX,tqQuiRedY,'#e2474c');
openDots(15,sucQuiX,sucQuiY,'#444');
const fit=(n,xs,ys)=>on(n,{type:'scatter',mode:'lines',x:xs,y:ys,line:{color:'#000',width:2.6,dash:'2.5px,2.5px'}});
fit(13,fitX1,fitY1);fit(14,fitX2,fitY2);fit(15,fitX3,fitY3);
lab('r=0.48',63,883,22.5,{anchor:'left'});lab('p=4x10'+sup('-7'),63,908,22,{anchor:'left'});
lab('r=0.47',283,883,22.5,{anchor:'left'});lab('p=9x10'+sup('-7'),283,908,22,{anchor:'left'});
lab('r=0.69',583,1010,22.5,{anchor:'left'});lab('p=2x10'+sup('-15'),583,1033,22,{anchor:'left'});
lab('<b>1'+sup('st')+' suc</b> (Hz)',33,952,24,{rot:-90});
lab('<b>1'+sup('st')+' qui</b> (Hz)',261,952,24,{rot:-90});
lab('<b>1'+sup('st')+' qui</b> (Hz)',485,952,24,{rot:-90});
lab('<b>T<sub>S</sub></b> (Hz)',149,1067,22);
lab('<b>T<sub>Q</sub></b> (Hz)',377,1067,22);
lab('<b>1'+sup('st')+' suc</b> (Hz)',592,1067,22);

// ---------- PANEL D ----------
lab('<b>D</b>',11,1128,30);
lab('1'+sup('st')+' suc (L<sub>S</sub>)',131,1180,26);
lab('<b>Unexpected</b>',330,1151,27);
lab('<b>1'+sup('st')+' suc (T<sub>S</sub>)</b>',332,1180,26);
lab('<b>Unexpected</b>',523,1151,27);
lab('<b>1'+sup('st')+' qui (T<sub>Q</sub>)</b>',523,1180,26);
panel(16,50,209,1200,1286,RANGE_T,HR36,hmOpt);
panel(17,246,404,1200,1286,RANGE_T,HR36,hmOpt);
panel(18,442,600,1200,1286,RANGE_T,HR36,hmOpt);
heat(16,heatD1,false,[1202,1288]);heat(17,heatD2,false);heat(18,heatD3,false);
zeroLine(16,[-.5,35.5],'#fff');zeroLine(17,[-.5,35.5],'#fff');zeroLine(18,[-.5,35.5],'#fff');
lab('PSTH',79,1213,20,{color:'#fff'});
lab('<b>n=58</b>',465,1278,19,{color:'#fff'});
lab('50',651,1201,22);lab('0',651,1285,22);lab('spikes/s',657,1243,16.5,{rot:-90});
lab('neuron #',35,1243,21,{rot:-90});
const y45=[0,15,30,45];
const dOpt={frame:true,ticks:true,xticks:timeTicks,xlabels:timeLabels,xStandoff:3,yticks:y45,ylabels:['0','','','45']};
panel(19,50,208,1304,1390,RANGE_T,[0,45],dOpt);
panel(20,246,403,1304,1390,RANGE_T,[0,45],dOpt);
panel(21,442,599,1304,1390,RANGE_T,[0,45],dOpt);
psthLine(19,learnedSuc,semLearned);psthLine(20,unexpSuc,semUnexpSuc);psthLine(21,unexpQui,semUnexpQui);
zeroLine(19,[0,45]);zeroLine(20,[0,45]);zeroLine(21,[0,45]);
lab('spikes/s',35,1348,16.5,{rot:-90});
lab('Time from the 1'+sup('st')+' reinforcement delivery (sec)',305,1438,21.7);

Plotly.newPlot('chart',traces,layout,{staticPlot:true,displayModeBar:false,responsive:false});
</script></body></html>
